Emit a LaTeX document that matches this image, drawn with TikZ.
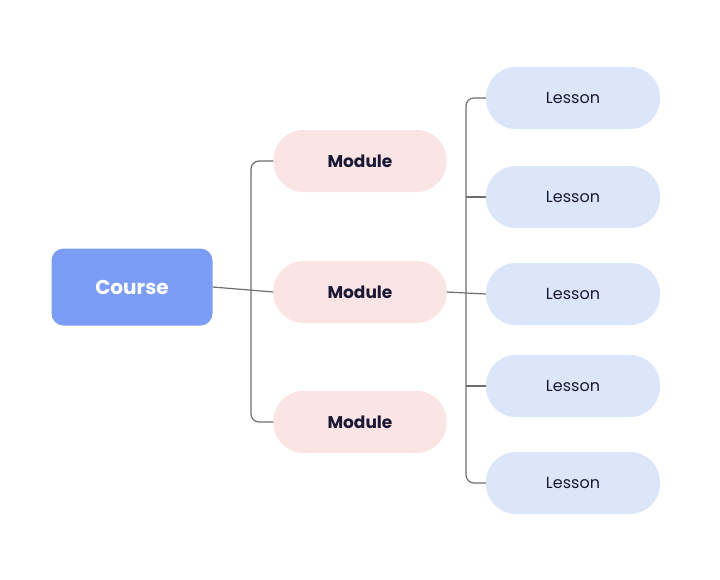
\documentclass[tikz,border=0pt]{standalone}
\usepackage{fontspec}
\setmainfont{Poppins}
\usetikzlibrary{positioning}
\definecolor{coursefill}{RGB}{124, 157, 245}
\definecolor{modulefill}{RGB}{251, 228, 228}
\definecolor{lessonfill}{RGB}{220, 230, 251}
\definecolor{inkdark}{RGB}{26, 24, 52}
\definecolor{linkgray}{RGB}{110, 110, 110}

\begin{document}
\begin{tikzpicture}[
    x=1pt, y=-1pt,
    course/.style={rectangle, fill=coursefill, rounded corners=12pt, minimum width=161pt, minimum height=77pt, text=white, font=\fontsize{20}{24}\selectfont\bfseries},
    module/.style={rectangle, fill=modulefill, rounded corners=30pt, minimum width=173pt, minimum height=62pt, text=inkdark, font=\fontsize{17}{20}\selectfont\bfseries},
    lesson/.style={rectangle, fill=lessonfill, rounded corners=30pt, minimum width=174pt, minimum height=62pt, text=inkdark, font=\fontsize{16}{19}\selectfont},
    link/.style={draw=linkgray, line width=1.2pt, rounded corners=8pt}
]
    \useasboundingbox[fill=white] (0,0) rectangle (720,579);

    \node[course] (course) at (132, 287) {Course};

    \node[module] (m1) at (360, 161) {Module};
    \node[module] (m2) at (360, 292) {Module};
    \node[module] (m3) at (360, 422) {Module};

    \node[lesson] (l1) at (573, 98) {Lesson};
    \node[lesson] (l2) at (573, 197) {Lesson};
    \node[lesson] (l3) at (573, 294) {Lesson};
    \node[lesson] (l4) at (573, 386) {Lesson};
    \node[lesson] (l5) at (573, 483) {Lesson};

    % course to modules
    \draw[link] (course.east) -- (m2.west);
    \draw[link] (m1.west) -| (251, 292) |- (m3.west);

    % module to lessons
    \draw[link] (m2.east) -- (l3.west);
    \draw[link] (l1.west) -| (466, 294) |- (l5.west);
    \draw[link] (466, 197) -- (l2.west);
    \draw[link] (466, 386) -- (l4.west);
\end{tikzpicture}
\end{document}
